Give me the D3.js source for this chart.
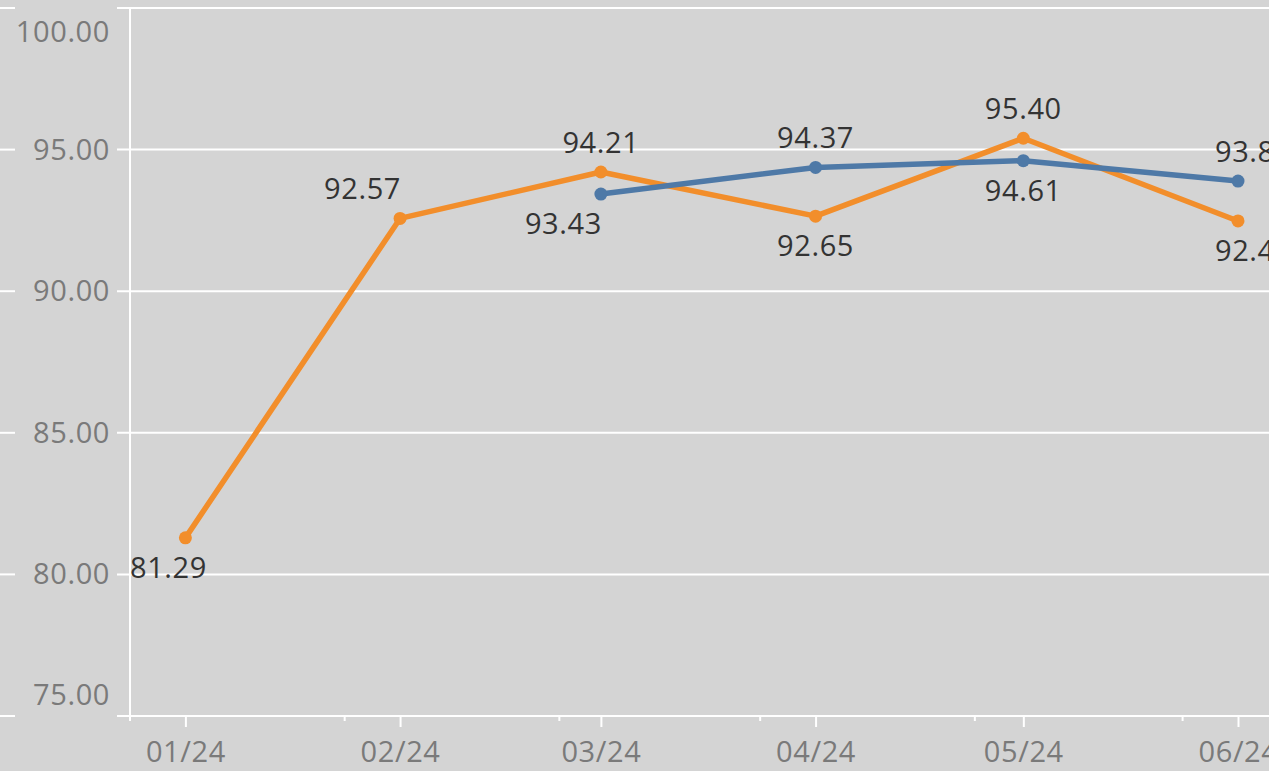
<!DOCTYPE html>
<html>
<head>
<meta charset="utf-8">
<script src="https://cdn.jsdelivr.net/npm/d3@7"></script>
<style>
  html, body { margin: 0; padding: 0; background: #d4d4d4; overflow: hidden; }
  svg { display: block; font-family: "Open Sans", sans-serif; }
</style>
</head>
<body>
<script>
// chart data
var months = ["2024-01-01", "2024-02-01", "2024-03-01", "2024-04-01", "2024-05-01", "2024-06-01"];
var orangeValues = [81.29, 92.57, 94.21, 92.65, 95.40, 92.48];
var blueValues = [null, null, 93.43, 94.37, 94.61, 93.89];
var yTicks = [75, 80, 85, 90, 95, 100];
var monthLabels = ["01/24", "02/24", "03/24", "04/24", "05/24", "06/24"];

// where each data label sits relative to its point
var orangeLabelPos = ["below-axis", "above-left", "above", "below", "above", "below-edge"];
var blueLabelPos = [null, null, "below-left", "above", "below", "above-edge"];

var w = 1269;
var h = 771;
var axisX = 130;
var axisY = 716;
var fontSize = "29px";
var parse = d3.timeParse("%Y-%m-%d");

window.onload = function() {

  var svg = d3.select("body")
    .append("svg")
    .attr("width", w)
    .attr("height", h);

  // continuous date axis starting at Dec 24
  var x = d3.scaleTime()
    .domain([parse("2023-12-24"), parse("2024-06-01")])
    .range([axisX, 1238]);

  var y = d3.scaleLinear()
    .domain([75, 100])
    .range([axisY, 8]);

  // gridlines: small stub at left, then across the plot
  var grid = svg.append("g");
  yTicks.forEach(function(t) {
    grid.append("line")
      .attr("x1", 0).attr("x2", 15)
      .attr("y1", y(t)).attr("y2", y(t))
      .attr("stroke", "#fff").attr("stroke-width", 2);
    grid.append("line")
      .attr("x1", 117).attr("x2", w)
      .attr("y1", y(t)).attr("y2", y(t))
      .attr("stroke", "#fff").attr("stroke-width", 2);
  });

  // y axis line
  svg.append("line")
    .attr("x1", axisX).attr("x2", axisX)
    .attr("y1", y(100)).attr("y2", axisY + 2)
    .attr("stroke", "#fff").attr("stroke-width", 2);

  // y tick labels (end labels pushed inside)
  svg.append("g").selectAll("text")
    .data(yTicks)
    .enter().append("text")
    .attr("x", 110)
    .attr("y", function(d) {
      if (d == 100) return y(d) + 34;
      if (d == 75) return y(d) - 11;
      return y(d) + 10;
    })
    .attr("text-anchor", "end")
    .attr("fill", "#7a7a7a")
    .style("font-size", fontSize)
    .style("letter-spacing", "0.6px")
    .text(function(d) { return d3.format(".2f")(d); });

  // x axis with major ticks on months and minor ticks on the 24th
  var minorDates = [parse("2023-12-24"), parse("2024-01-24"), parse("2024-02-24"),
                    parse("2024-03-24"), parse("2024-04-24"), parse("2024-05-24")];

  var xAxis = d3.axisBottom(x)
    .tickValues(months.map(parse))
    .tickSize(11)
    .tickPadding(14)
    .tickFormat(function(d, i) { return monthLabels[i]; });

  var xg = svg.append("g")
    .attr("transform", "translate(0," + axisY + ")")
    .call(xAxis);
  xg.select(".domain").remove();
  xg.selectAll(".tick line").attr("stroke", "#fff").attr("stroke-width", 2);
  xg.selectAll(".tick text")
    .attr("fill", "#7a7a7a")
    .style("font-size", fontSize)
    .style("letter-spacing", "0.6px")
    .style("font-family", "'Open Sans', sans-serif");

  xg.append("line")
    .attr("x1", 117).attr("x2", w)
    .attr("y1", 0).attr("y2", 0)
    .attr("stroke", "#fff").attr("stroke-width", 2);

  xg.selectAll(".minor")
    .data(minorDates)
    .enter().append("line")
    .attr("class", "minor")
    .attr("x1", function(d) { return x(d); })
    .attr("x2", function(d) { return x(d); })
    .attr("y1", 0).attr("y2", 5)
    .attr("stroke", "#fff").attr("stroke-width", 2);

  drawSeries(svg, x, y, orangeValues, "#f28e2b", orangeLabelPos);
  drawSeries(svg, x, y, blueValues, "#4e79a7", blueLabelPos);
};

function drawSeries(svg, x, y, values, color, labelPos) {
  var pts = [];
  values.forEach(function(v, i) {
    if (v != null) pts.push({date: parse(months[i]), value: v, pos: labelPos[i]});
  });

  var line = d3.line()
    .x(function(d) { return x(d.date); })
    .y(function(d) { return y(d.value); });

  svg.append("path")
    .datum(pts)
    .attr("d", line)
    .attr("fill", "none")
    .attr("stroke", color)
    .attr("stroke-width", 5.5)
    .attr("stroke-linejoin", "round");

  svg.append("g").selectAll("circle")
    .data(pts)
    .enter().append("circle")
    .attr("cx", function(d) { return x(d.date); })
    .attr("cy", function(d) { return y(d.value); })
    .attr("r", 6.5)
    .attr("fill", color);

  svg.append("g").selectAll("text")
    .data(pts)
    .enter().append("text")
    .attr("x", function(d) {
      var px = x(d.date);
      if (d.pos == "above-left" || d.pos == "below-left") return px + 1;
      if (d.pos.indexOf("edge") > -1) return px - 23;
      if (d.pos == "below-axis") return axisX;
      return px;
    })
    .attr("y", function(d) {
      var py = y(d.value);
      return d.pos.indexOf("above") == 0 ? py - 19 : py + 40;
    })
    .attr("text-anchor", function(d) {
      if (d.pos == "above-left" || d.pos == "below-left") return "end";
      if (d.pos.indexOf("edge") > -1 || d.pos == "below-axis") return "start";
      return "middle";
    })
    .attr("fill", "#333")
    .style("font-size", fontSize)
    .style("letter-spacing", "0.6px")
    .text(function(d) { return d3.format(".2f")(d.value); });
}
</script>
</body>
</html>
